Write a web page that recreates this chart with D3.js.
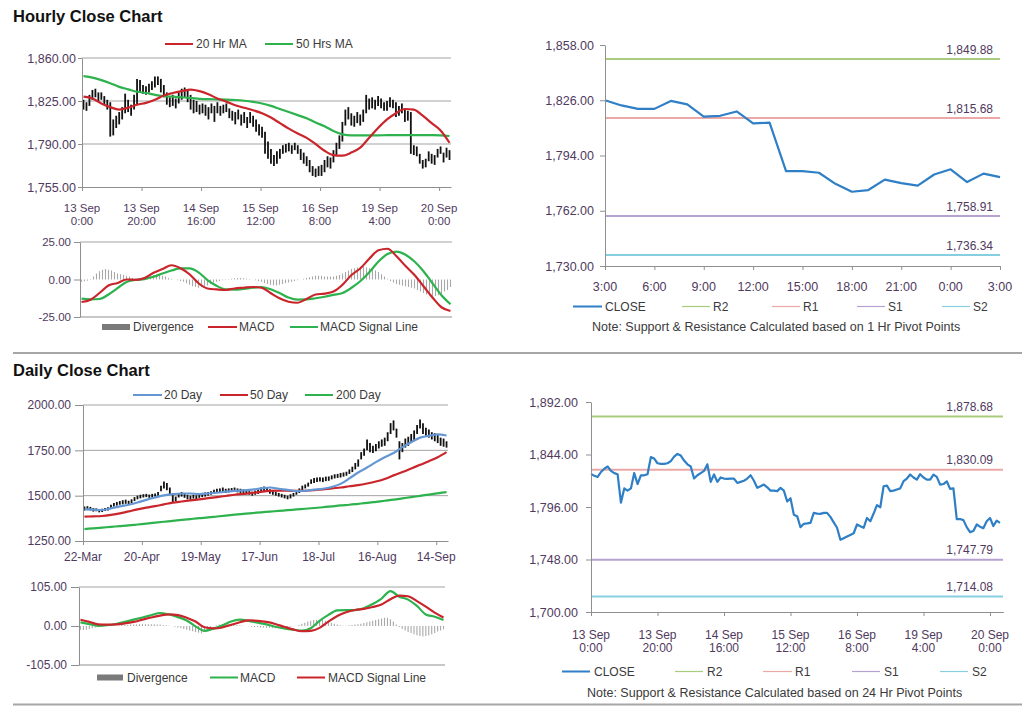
<!DOCTYPE html>
<html>
<head>
<meta charset="utf-8">
<script src="https://cdn.jsdelivr.net/npm/d3@7"></script>
<style>
html,body{margin:0;padding:0;background:#fff;}
svg{display:block;}
</style>
</head>
<body>
<svg id="chart" width="1024" height="706"></svg>
<script>
// ================= DATA =================
// --- Hourly close chart (OHLC ranges, 13 Sep 0:00 -> 20 Sep 3:00) ---
const hourlyTickIdx = [0,20,40,60,80,100,120];
const hourlyTickLabels = [["13 Sep","0:00"],["13 Sep","20:00"],["14 Sep","16:00"],["15 Sep","12:00"],["16 Sep","8:00"],["19 Sep","4:00"],["20 Sep","0:00"]];
const hourlyPriceTicks = [1755,1790,1825,1860];
const hourlyHigh = [1826,1824,1830,1834,1835,1832,1832,1829,1826,1824,
  1810,1813,1816,1820,1831,1826,1822,1830,1843,1842,
  1838,1837,1839,1841,1845,1845,1843,1838,1832,1828,
  1830,1827,1832,1835,1836,1834,1830,1826,1825,1822,
  1823,1822,1820,1823,1821,1824,1821,1822,1823,1819,
  1817,1816,1818,1814,1816,1812,1816,1813,1810,1806,
  1804,1800,1792,1786,1781,1784,1786,1789,1790,1791,
  1789,1791,1789,1786,1783,1780,1777,1772,1770,1772,
  1773,1777,1780,1779,1785,1791,1797,1808,1818,1820,
  1815,1813,1816,1814,1818,1830,1827,1828,1826,1829,
  1827,1824,1825,1828,1826,1824,1821,1823,1818,1817,
  1816,1789,1788,1782,1777,1778,1784,1782,1781,1786,
  1788,1783,1787,1785];
const hourlyLow = [1818,1817,1821,1826,1828,1825,1826,1822,1818,1796,
  1797,1803,1806,1810,1815,1816,1813,1818,1822,1832,
  1831,1830,1832,1834,1836,1838,1832,1828,1822,1820,
  1821,1819,1823,1826,1828,1824,1818,1815,1816,1814,
  1815,1813,1810,1815,1808,1815,1813,1815,1816,1811,
  1809,1806,1810,1805,1807,1803,1807,1804,1800,1797,
  1795,1782,1778,1774,1772,1774,1778,1782,1783,1784,
  1782,1785,1782,1777,1774,1772,1767,1764,1763,1764,
  1764,1767,1771,1770,1775,1780,1786,1792,1805,1810,
  1805,1804,1807,1805,1808,1815,1818,1819,1818,1821,
  1819,1817,1817,1820,1819,1812,1813,1815,1808,1809,
  1782,1781,1780,1774,1770,1771,1776,1774,1773,1779,
  1782,1775,1779,1777];
// moving averages, read every 3rd bar
const ma20Hr = [1828.5,1827,1823,1820,1818,1819.5,1822,1823.5,1826,1829.5,1831.5,1833,1834.2,1833,1830.5,1827,1824.5,1821.5,1819.5,1817.5,1815,1811.5,1807,1802.5,1798.5,1795,1790,1784.5,1781,1780.5,1783,1787,1795,1803,1810,1815,1818.5,1818,1813,1807,1801,1791];
const ma50Hr = [1845.3,1844,1842,1839.5,1836.5,1834.5,1832.5,1831.5,1830,1829,1828.5,1828,1827.5,1826.8,1826.5,1826.4,1826.2,1825.8,1825.2,1824.3,1823,1821,1818.5,1816,1813.5,1811,1807.5,1804.5,1800.5,1797.8,1797,1797,1797,1797,1797.2,1797.3,1797.3,1797.3,1797.3,1797.2,1797,1796.5];
// hourly MACD
const macdHrTicks = [-25,0,25];
const macdHr = [-15,-13.5,-9,-4,-2.3,0,-0.2,1,4.5,7,9.5,7.5,3.5,-2.5,-6,-6.6,-7,-6,-5.5,-5,-5.5,-9,-12.5,-14.8,-15.5,-13,-10,-9.4,-8,-3.5,3,7.5,14,19.5,20.5,15.5,9,3,-4.5,-12,-18.5,-21];
const signalHr = [-12.8,-13.3,-13,-10,-5.8,-1.6,-0.3,0.3,1.8,4,6,7.4,7.4,4.8,-0.4,-4.2,-6.5,-6.8,-6.3,-5.5,-5,-6.5,-9,-12,-13.4,-13.3,-12.5,-11.5,-10.2,-9,-5.5,-1,5,12,17,18.6,16.5,12,5.5,-2.5,-10.5,-16.5];
const divergenceHr = [-1.5,-1.2,-0.8,0.3,
  2,4,5.5,6.5,7, 6.5,6,5,4,3.5, 3,2.5,2,1,0.5, 0.5,1,1.5,2,2.5,3,
  3.5,3,2.5,2,1, 0.5,0,-0.5,-1, -1.5,-2.5,-3.5,-4.5,-5,-5.5,-5,
  -4.5,-4,-3,-2,-1.5, -1,-0.5,-0.3,0.3,0.5, 0.8,1,1,0.8,0.6,0.3,0,
  -0.5,-1,-1.5,-2.5,-3,-3.5, -4,-4,-3.5,-3,-2.5,-2, -1.5,-1,-0.5,0,0.5,
  1,1.5,2,2.5,2.5,2.5,2,2, 2,2,2.5,3,4, 5,6,7,7.5,8,8.5,
  8.5,8,7.5,7,6,5,3.5, 2,0.5,-1,-2, -3,-3.5,-4,-4.5,-5,-5.5,
  -6,-7,-8,-9,-10,-10.5, -11,-11,-10.5,-9.5,-8,-7,-5];

// --- Pivot levels ---
const pivotNames = ["R2","R1","S1","S2"];
const pivot1Hr = [1849.88,1815.68,1758.91,1736.34];
const pivot24Hr = [1878.68,1830.09,1747.79,1714.08];

// --- Last 24 hours close (19 Sep 3:00 -> 20 Sep 3:00) ---
const close1HrLabels = ["3:00","6:00","9:00","12:00","15:00","18:00","21:00","0:00","3:00"];
const close1HrTicks = [1730,1762,1794,1826,1858];
const close1Hr = [1826,1823,1821,1821,1825.6,1823.6,1816.5,1817,1819.5,1812.6,1813,1785,1785,1784,1777.6,1773,1774,1780,1778,1776.6,1783,1786,1778.6,1783.5,1781.5];

// --- Daily close chart (22 Mar -> 20 Sep) ---
const dailyTickIdx = [0,20,40,60,80,100,120];
const dailyTickLabels = ["22-Mar","20-Apr","19-May","17-Jun","18-Jul","16-Aug","14-Sep"];
const dailyPriceTicks = [1250,1500,1750,2000];
const dailyHigh = [1440,1442,1438,1432,1430,1426,1428,1432,1436,1450,
  1460,1465,1470,1475,1478,1472,1480,1492,1500,1505,
  1508,1510,1506,1510,1512,1520,1555,1578,1570,1545,
  1510,1495,1515,1520,1512,1505,1500,1505,1502,1510,
  1515,1518,1520,1525,1532,1538,1540,1545,1538,1540,
  1542,1545,1540,1538,1535,1530,1525,1522,1528,1532,
  1545,1550,1548,1535,1528,1520,1515,1510,1505,1500,
  1508,1515,1525,1540,1555,1562,1572,1590,1598,1600,
  1602,1600,1605,1606,1612,1618,1620,1625,1628,1632,
  1645,1660,1680,1700,1740,1760,1810,1790,1775,1785,
  1800,1810,1820,1850,1900,1915,1870,1800,1790,1815,
  1825,1840,1860,1890,1920,1900,1875,1865,1850,1845,
  1835,1820,1815,1800];
const dailyLow = [1418,1420,1418,1412,1414,1408,1410,1415,1418,1430,
  1440,1445,1450,1452,1455,1450,1458,1470,1480,1485,
  1490,1492,1488,1490,1495,1500,1525,1540,1530,1505,
  1465,1470,1490,1495,1488,1480,1478,1484,1480,1488,
  1492,1495,1500,1505,1510,1515,1518,1520,1515,1518,
  1520,1522,1518,1515,1512,1508,1505,1500,1505,1510,
  1520,1525,1522,1510,1505,1500,1495,1490,1485,1480,
  1485,1495,1505,1515,1530,1540,1550,1565,1570,1575,
  1578,1575,1580,1582,1590,1595,1598,1600,1605,1610,
  1620,1630,1645,1660,1700,1720,1750,1740,1735,1745,
  1760,1770,1775,1800,1840,1860,1820,1700,1740,1765,
  1775,1790,1800,1840,1870,1840,1830,1820,1810,1800,
  1790,1775,1770,1765];
const ma20Day = [1425,1423,1421,1430,1441,1450,1462,1477,1490,1502,1508,1512,1512,1509,1512,1516,1522,1526,1529,1533,1540,1545,1538,1532,1525,1527,1533,1538,1548,1565,1595,1628,1655,1685,1712,1735,1768,1795,1820,1830,1838,1832];
const ma50Day = [1384,1386,1388,1394,1402,1413,1424,1434,1442,1452,1462,1468,1474,1480,1486,1492,1498,1505,1510,1515,1521,1526,1528,1527,1526,1527,1530,1534,1540,1545,1552,1558,1567,1578,1592,1612,1630,1650,1670,1690,1712,1740];
const ma200Day = [1316,1320,1324,1328,1332,1336,1341,1346,1351,1356,1361,1366,1371,1376,1380,1385,1390,1395,1400,1404,1408,1412,1416,1420,1424,1428,1432,1436,1441,1446,1450,1455,1460,1466,1472,1478,1485,1492,1499,1506,1513,1520];
// daily MACD
const macdDayTicks = [-105,0,105];
const macdDay = [10,5,0.5,2,5.5,11,17,23,29,35,31,24,15,-1,-13,-7,1,12,17,14,9,4.5,-2,-6.5,-10,-12.5,-6,14,30,42,43,43,48,59,74,94,79,71,54,31,25,16];
const signalDay = [17,11,4.5,3.8,4.3,7,11,17,23,28,31.5,29.5,22,12,-3.5,-6.5,-4,3,10,15,14,11,5.5,-2,-9,-14,-13,-5,12,27,37,43,46,51,58,72,82,80,67,52,36,23];
const divergenceDay = [-10,-11,-10,-8,-6,-4, -3,-2,-1,0,1,1, 2,2,3,3,3,4, 4,4,5,5,5,5,
  5,5,4,4,3,2, 1,0,-2,-4,-6,-8, -10,-12,-14,-16,-18,-20, -14,-8,-3,0,2,4,
  5,6,6,5,4,3, 2,1,0,-1,-2,-3, -3,-4,-4,-5,-5,-6, -6,-5,-5,-4,-3,-2,
  -1,1,3,6,9,12, 14,16,17,17,16,14, 12,9,6,4,2,1, 1,2,3,4,5,6,
  8,10,12,14,16,18, 20,22,22,18,12,4, -3,-8,-12,-16,-19,-22,
  -25,-27,-28,-27,-25,-22, -19,-15,-12,-9];

// --- Hourly close for the week (13 Sep 0:00 -> 20 Sep 3:00) ---
const close24HrTicks = [1700,1748,1796,1844,1892];
const close24Hr = [1826.3,1824.5,1823.5,1828,1831,1833,1829,1827,1826,1800,
  1813,1811,1813,1827,1817,1825,1825,1826,1841.6,1840.3,
  1836,1835.5,1835.5,1836,1838,1842,1844.5,1843,1838.5,1835,
  1833,1822,1825,1827,1829,1835,1819,1825.7,1819,1823,
  1822,1821.7,1822,1822,1818,1819,1820,1822,1825,1820,
  1813.5,1815,1816.5,1814,1811,1811,1810.5,1813.5,1811,1801,
  1804,1789,1787.6,1777.5,1780.6,1781,1781.5,1790.6,1790,1789.7,
  1790.6,1790.6,1787,1782,1777,1766,1767.5,1769,1770.5,1772,
  1780,1778.5,1777,1786,1783,1790,1797.7,1795.8,1815,1815.6,
  1810.5,1811,1812,1813,1819.6,1822,1825.7,1823,1821,1826,
  1823,1821,1821,1825.6,1823.6,1816.5,1817,1819.5,1812.6,1813,
  1785,1785,1784,1777.6,1773,1774,1780,1778,1776.6,1783,
  1786,1778.6,1783.5,1781.5];

// ================= RENDER =================
const svg = d3.select("#chart");
const FONT = "'Liberation Sans', Arial, Helvetica, sans-serif";
const GRID = "#a3a3a3", AXIS = "#8f8f8f", LABEL = "#4f3a5e", LEGEND = "#3a3a3a";
const RED = "#c9252b", GREEN = "#2db24d", BLUE = "#2e7fc6", BLUE20 = "#6496d4";
const DIVC = "#a8a8a8", DIVLEG = "#7a7a7a";
const pivotColors = ["#a9cb7c","#eca7a7","#b6a2d1","#87cfe0"];
const STEP = 3;
const loc = d3.formatLocale({decimal:".", thousands:",", grouping:[3], currency:["",""], minus:"-"});
const fComma = loc.format(",.2f"), fPlain = loc.format(".2f");

function txt(x, y, s, o = {}) {
  return svg.append("text").attr("x", x).attr("y", y).text(s)
    .attr("font-family", FONT).attr("font-size", o.size || 12)
    .attr("font-weight", o.weight || "normal")
    .attr("fill", o.fill || LEGEND).attr("text-anchor", o.anchor || "start");
}
function leftAxis(y, ticks, fmt, x, tick, pad, size) {
  const ax = svg.append("g").attr("transform", `translate(${x},0)`)
    .call(d3.axisLeft(y).tickValues(ticks).tickFormat(fmt).tickSizeInner(tick).tickSizeOuter(0).tickPadding(pad));
  ax.select(".domain").attr("stroke", AXIS);
  ax.selectAll(".tick line").attr("stroke", AXIS);
  ax.selectAll(".tick text").attr("fill", LABEL).attr("font-size", size).attr("font-family", FONT);
  return ax;
}
function bottomAxis(x, y0, idx, tick) {
  const ax = svg.append("g").attr("transform", `translate(0,${y0})`)
    .call(d3.axisBottom(x).tickValues(idx).tickFormat(() => "").tickSizeInner(tick).tickSizeOuter(0));
  ax.select(".domain").attr("stroke", AXIS);
  ax.selectAll(".tick line").attr("stroke", AXIS);
  return ax;
}
function grid(x0, x1, y, vals) {
  svg.append("g").selectAll("line").data(vals).join("line")
    .attr("x1", x0).attr("x2", x1).attr("y1", d => y(d)).attr("y2", d => y(d))
    .attr("stroke", GRID).attr("stroke-width", 1);
}
function legend(y, items, size) {
  items.forEach(it => {
    if (it.box) svg.append("rect").attr("x", it.x0).attr("y", y - 3).attr("width", it.x1 - it.x0).attr("height", 6).attr("fill", it.color);
    else svg.append("line").attr("x1", it.x0).attr("x2", it.x1).attr("y1", y).attr("y2", y).attr("stroke", it.color).attr("stroke-width", it.w || 2);
    txt(it.tx, y + 4, it.label, {size: size});
  });
}
function bars(x, y, hi, lo) {
  svg.append("g").selectAll("line").data(hi).join("line")
    .attr("x1", (d, i) => x(i + 0.5)).attr("x2", (d, i) => x(i + 0.5))
    .attr("y1", d => y(d)).attr("y2", (d, i) => y(lo[i]))
    .attr("stroke", "#111").attr("stroke-width", 1.8);
}
function sampledLine(x, y, vals, color, w) {
  svg.append("path").datum(vals)
    .attr("d", d3.line().x((d, k) => x(k * STEP + 0.5)).y(d => y(d)).curve(d3.curveMonotoneX))
    .attr("fill", "none").attr("stroke", color).attr("stroke-width", w || 2).attr("stroke-linejoin", "round");
}
function divergence(x, y, vals) {
  svg.append("g").selectAll("line").data(vals).join("line")
    .attr("x1", (d, i) => x(i + 0.5)).attr("x2", (d, i) => x(i + 0.5))
    .attr("y1", y(0)).attr("y2", d => y(d))
    .attr("stroke", DIVC).attr("stroke-width", 1.1);
}

// ---------- Section titles and separators ----------
txt(13, 21.5, "Hourly Close Chart", {size: 16.5, weight: "bold", fill: "#111"});
txt(13, 375.5, "Daily Close Chart", {size: 16.5, weight: "bold", fill: "#111"});
svg.append("line").attr("x1", 13).attr("x2", 1022).attr("y1", 353).attr("y2", 353).attr("stroke", "#a6a6a6").attr("stroke-width", 2);
svg.append("line").attr("x1", 13).attr("x2", 1022).attr("y1", 704.5).attr("y2", 704.5).attr("stroke", "#a6a6a6").attr("stroke-width", 2);

// ---------- Panel A: hourly bars ----------
{
  const x = d3.scaleLinear().domain([0, hourlyHigh.length]).range([82, 451]);
  const y = d3.scaleLinear().domain([1755, 1860]).range([187, 58]);
  grid(82, 451, y, hourlyPriceTicks.slice(1));
  bars(x, y, hourlyHigh, hourlyLow);
  sampledLine(x, y, ma50Hr, GREEN, 2.2);
  sampledLine(x, y, ma20Hr, RED, 2.2);
  leftAxis(y, hourlyPriceTicks, fComma, 82, 4, 2, 12.5);
  bottomAxis(x, 187, hourlyTickIdx, 4);
  hourlyTickIdx.forEach((i, k) => {
    txt(x(i), 211.5, hourlyTickLabels[k][0], {anchor: "middle", size: 11.5, fill: LABEL});
    txt(x(i), 225, hourlyTickLabels[k][1], {anchor: "middle", size: 11.5, fill: LABEL});
  });
  legend(44, [
    {x0: 165, x1: 193, tx: 196, color: RED, label: "20 Hr MA"},
    {x0: 265, x1: 293, tx: 296, color: GREEN, label: "50 Hrs MA"}
  ], 12);
}
// ---------- Panel A2: hourly MACD ----------
{
  const x = d3.scaleLinear().domain([0, divergenceHr.length]).range([80, 452]);
  const y = d3.scaleLinear().domain([-25, 25]).range([317, 242]);
  grid(80, 452, y, [25]);
  divergence(x, y, divergenceHr);
  sampledLine(x, y, signalHr, GREEN, 2.2);
  sampledLine(x, y, macdHr, RED, 2.2);
  leftAxis(y, macdHrTicks, fPlain, 80, 6, 3, 11.5);
  svg.append("line").attr("x1", 80).attr("x2", 452).attr("y1", y(-25)).attr("y2", y(-25)).attr("stroke", AXIS);
  legend(327, [
    {x0: 102, x1: 130, tx: 133, color: DIVLEG, label: "Divergence", box: true},
    {x0: 208, x1: 237, tx: 239, color: RED, label: "MACD"},
    {x0: 290, x1: 318, tx: 320, color: GREEN, label: "MACD Signal Line"}
  ], 12);
}
// ---------- Panel B: last 24h close with 1h pivots ----------
{
  const x = d3.scaleLinear().domain([0, close1Hr.length - 1]).range([605, 1000]);
  const y = d3.scaleLinear().domain([1730, 1858]).range([266, 45]);
  svg.append("g").selectAll("line").data(pivot1Hr).join("line")
    .attr("x1", 605).attr("x2", 1000).attr("y1", d => y(d)).attr("y2", d => y(d))
    .attr("stroke", (d, k) => pivotColors[k]).attr("stroke-width", 2);
  svg.append("g").selectAll("text").data(pivot1Hr).join("text")
    .attr("x", 993).attr("y", d => y(d) - 5.5).attr("text-anchor", "end")
    .attr("font-family", FONT).attr("font-size", 12).attr("fill", LABEL).text(d => fComma(d));
  svg.append("path").datum(close1Hr)
    .attr("d", d3.line().x((d, i) => x(i)).y(d => y(d)))
    .attr("fill", "none").attr("stroke", BLUE).attr("stroke-width", 2.2).attr("stroke-linejoin", "round");
  leftAxis(y, close1HrTicks, fComma, 605, 5, 6, 12.5);
  const idx = close1HrLabels.map((d, k) => k * 3);
  bottomAxis(x, 266, idx, 4);
  idx.forEach((i, k) => txt(x(i), 291, close1HrLabels[k], {anchor: "middle", size: 12.5, fill: LABEL}));
  legend(306.5, [
    {x0: 573, x1: 602, tx: 605, color: BLUE, label: "CLOSE", w: 2},
    {x0: 682, x1: 710, tx: 713, color: pivotColors[0], label: pivotNames[0], w: 1.2},
    {x0: 772, x1: 800, tx: 803, color: pivotColors[1], label: pivotNames[1], w: 1.2},
    {x0: 857, x1: 885, tx: 888, color: pivotColors[2], label: pivotNames[2], w: 1.2},
    {x0: 942, x1: 970, tx: 973, color: pivotColors[3], label: pivotNames[3], w: 1.2}
  ], 12);
  txt(592, 331, "Note: Support & Resistance Calculated based on 1 Hr Pivot Points", {size: 12.5});
}
// ---------- Panel C: daily bars ----------
{
  const x = d3.scaleLinear().domain([0, dailyHigh.length]).range([83, 448]);
  const y = d3.scaleLinear().domain([1250, 2000]).range([541, 405]);
  grid(83, 448, y, dailyPriceTicks.slice(1));
  bars(x, y, dailyHigh, dailyLow);
  sampledLine(x, y, ma200Day, GREEN, 2.2);
  sampledLine(x, y, ma50Day, RED, 2.2);
  sampledLine(x, y, ma20Day, BLUE20, 2.2);
  leftAxis(y, dailyPriceTicks, fPlain, 83, 8, 4, 12);
  bottomAxis(x, 541, dailyTickIdx, 4);
  dailyTickIdx.forEach((i, k) => txt(x(i), 561, dailyTickLabels[k], {anchor: "middle", size: 12, fill: LABEL}));
  legend(395, [
    {x0: 133, x1: 162, tx: 164, color: BLUE20, label: "20 Day"},
    {x0: 220, x1: 248, tx: 250, color: RED, label: "50 Day"},
    {x0: 305, x1: 333, tx: 336, color: GREEN, label: "200 Day"}
  ], 12);
}
// ---------- Panel C2: daily MACD ----------
{
  const x = d3.scaleLinear().domain([0, divergenceDay.length]).range([79, 445]);
  const y = d3.scaleLinear().domain([-105, 105]).range([665, 587]);
  grid(79, 445, y, [105]);
  divergence(x, y, divergenceDay);
  sampledLine(x, y, macdDay, GREEN, 2.2);
  sampledLine(x, y, signalDay, RED, 2.2);
  leftAxis(y, macdDayTicks, fPlain, 79, 8, 4, 12);
  svg.append("line").attr("x1", 79).attr("x2", 445).attr("y1", y(-105)).attr("y2", y(-105)).attr("stroke", AXIS);
  legend(677.5, [
    {x0: 97, x1: 123, tx: 127, color: DIVLEG, label: "Divergence", box: true},
    {x0: 210, x1: 238, tx: 240, color: GREEN, label: "MACD"},
    {x0: 297, x1: 325, tx: 328, color: RED, label: "MACD Signal Line"}
  ], 12);
}
// ---------- Panel D: week close with 24h pivots ----------
{
  const x = d3.scaleLinear().domain([0, close24Hr.length]).range([591, 1003.3]);
  const y = d3.scaleLinear().domain([1700, 1892]).range([612, 402]);
  svg.append("g").selectAll("line").data(pivot24Hr).join("line")
    .attr("x1", 591).attr("x2", 1003).attr("y1", d => y(d)).attr("y2", d => y(d))
    .attr("stroke", (d, k) => pivotColors[k]).attr("stroke-width", 2);
  svg.append("g").selectAll("text").data(pivot24Hr).join("text")
    .attr("x", 993).attr("y", d => y(d) - 5.5).attr("text-anchor", "end")
    .attr("font-family", FONT).attr("font-size", 12).attr("fill", LABEL).text(d => fComma(d));
  svg.append("path").datum(close24Hr)
    .attr("d", d3.line().x((d, i) => x(i)).y(d => y(d)))
    .attr("fill", "none").attr("stroke", BLUE).attr("stroke-width", 2.2).attr("stroke-linejoin", "round");
  leftAxis(y, close24HrTicks, fComma, 591, 5, 8, 12.5);
  bottomAxis(x, 612, hourlyTickIdx, 4);
  hourlyTickIdx.forEach((i, k) => {
    txt(x(i), 638.5, hourlyTickLabels[k][0], {anchor: "middle", size: 12, fill: LABEL});
    txt(x(i), 652, hourlyTickLabels[k][1], {anchor: "middle", size: 12, fill: LABEL});
  });
  legend(671.5, [
    {x0: 562, x1: 590, tx: 594, color: BLUE, label: "CLOSE", w: 2},
    {x0: 675, x1: 703, tx: 707, color: pivotColors[0], label: pivotNames[0], w: 1.2},
    {x0: 763, x1: 792, tx: 795, color: pivotColors[1], label: pivotNames[1], w: 1.2},
    {x0: 852, x1: 880, tx: 884, color: pivotColors[2], label: pivotNames[2], w: 1.2},
    {x0: 940, x1: 968, tx: 972, color: pivotColors[3], label: pivotNames[3], w: 1.2}
  ], 12);
  txt(587, 697, "Note: Support & Resistance Calculated based on 24 Hr Pivot Points", {size: 12.5});
}
</script>
</body>
</html>
